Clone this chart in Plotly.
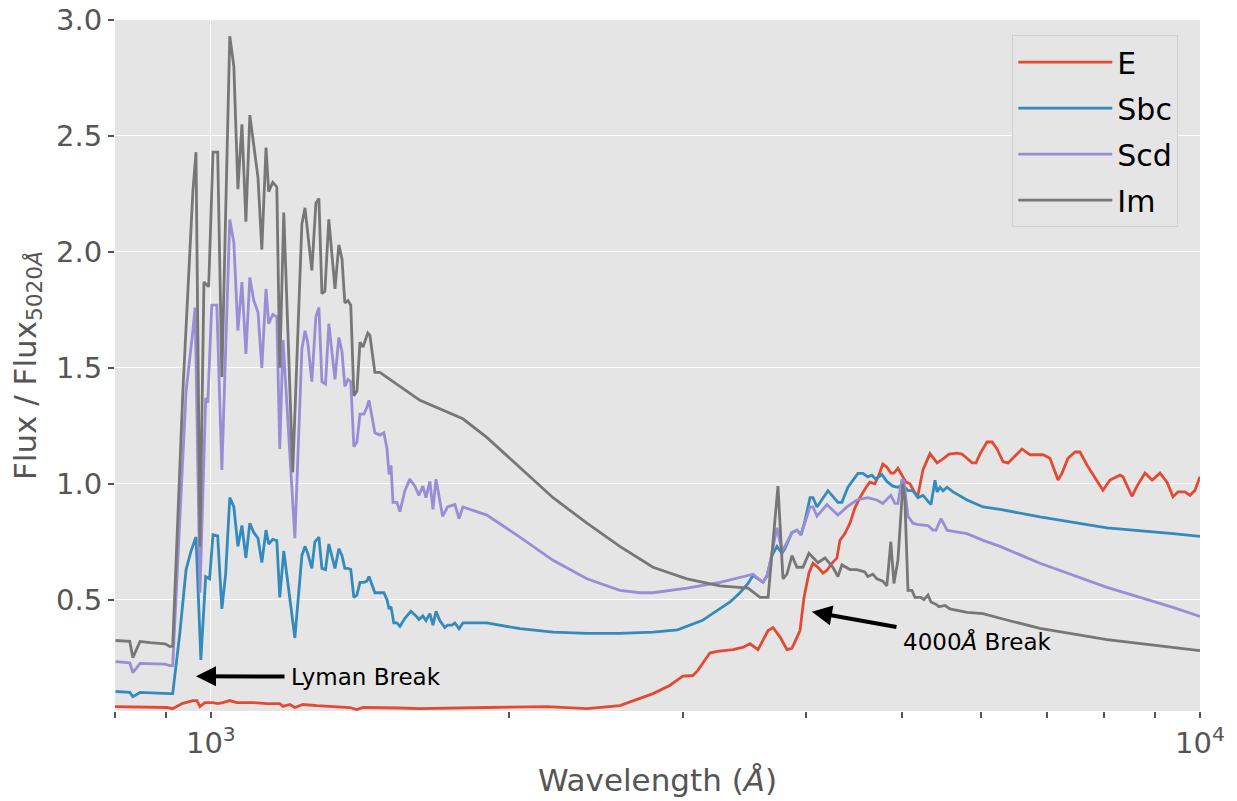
import math
import plotly.graph_objects as go

# Galaxy template spectra, normalised to the flux at 5020 Å
wl_e = [800, 903, 915, 935, 959, 968, 975, 986, 1005, 1016, 1028, 1045, 1062, 1082, 1103, 1139, 1174, 1183, 1202, 1216,
        1239, 1280, 1328, 1382, 1405, 1425, 1553, 1627, 1901, 2187, 2400, 2591, 2799, 2910, 3000, 3071, 3107, 3195, 3248, 3294,
        3373, 3453, 3508, 3574, 3659, 3701, 3761, 3823, 3868, 3941, 3978, 4024, 4062, 4109, 4158, 4196, 4245, 4295, 4325, 4375,
        4427, 4478, 4530, 4605, 4637, 4691, 4735, 4779, 4824, 4869, 4904, 4950, 5008, 5043, 5091, 5150, 5186, 5247, 5334, 5422,
        5498, 5576, 5681, 5746, 5814, 5883, 5937, 5994, 6091, 6163, 6234, 6323, 6397, 6607, 6732, 6939, 7052, 7136, 7186, 7253,
        7354, 7477, 7562, 7689, 7830, 7977, 8110, 8301, 8359, 8535, 8636, 8798, 8944, 9111, 9261, 9391, 9501, 9656, 9770, 9885,
        10000]
flux_e = [0.039, 0.035, 0.03, 0.052, 0.065, 0.065, 0.039, 0.056, 0.056, 0.052, 0.056, 0.065, 0.056, 0.056, 0.056, 0.052, 0.052, 0.04, 0.048, 0.035,
          0.048, 0.043, 0.04, 0.035, 0.026, 0.035, 0.033, 0.03, 0.035, 0.039, 0.03, 0.043, 0.095, 0.13, 0.17, 0.173, 0.195, 0.27, 0.277, 0.28,
          0.285, 0.295, 0.31, 0.285, 0.367, 0.38, 0.34, 0.285, 0.29, 0.367, 0.51, 0.615, 0.657, 0.64, 0.615, 0.627, 0.657, 0.68, 0.756, 0.785,
          0.83, 0.895, 0.94, 0.99, 1.007, 1.0, 1.037, 1.085, 1.072, 1.046, 1.046, 1.067, 1.03, 1.007, 1.0, 0.96, 0.95, 1.06, 1.13, 1.09,
          1.107, 1.128, 1.132, 1.128, 1.11, 1.09, 1.09, 1.13, 1.18, 1.18, 1.15, 1.095, 1.09, 1.15, 1.125, 1.125, 1.11, 1.05, 1.016, 1.046,
          1.11, 1.137, 1.137, 1.08, 1.024, 0.972, 1.016, 1.037, 1.03, 0.946, 0.99, 1.046, 1.016, 1.046, 1.007, 0.944, 0.965, 0.965, 0.95, 0.972,
          1.03]

wl_sbc = [801, 828, 834, 848, 909, 915, 930, 944, 955, 966, 977, 988, 997, 1005, 1016, 1026, 1035, 1045, 1055, 1065,
          1075, 1085, 1095, 1105, 1116, 1126, 1137, 1144, 1155, 1166, 1174, 1185, 1216, 1236, 1245, 1253, 1265, 1274, 1286, 1295,
          1306, 1316, 1335, 1347, 1357, 1366, 1376, 1385, 1395, 1405, 1415, 1428, 1438, 1445, 1465, 1482, 1496, 1507, 1514, 1521,
          1531, 1542, 1553, 1571, 1593, 1612, 1623, 1638, 1650, 1665, 1677, 1689, 1704, 1724, 1735, 1753, 1765, 1782, 1798, 1827,
          1901, 2053, 2218, 2400, 2591, 2799, 2963, 3138, 3271, 3349, 3427, 3492, 3533, 3616, 3650, 3692, 3735, 3779, 3805, 3868,
          3913, 3950, 3987, 4034, 4062, 4100, 4206, 4305, 4345, 4406, 4510, 4562, 4615, 4659, 4702, 4768, 4824, 4892, 4950, 5008,
          5067, 5126, 5186, 5247, 5346, 5396, 5422, 5460, 5498, 5550, 5628, 5814, 6035, 6279, 6890, 8054, 9391, 10000]
flux_sbc = [0.104, 0.10, 0.082, 0.10, 0.095, 0.095, 0.35, 0.63, 0.71, 0.77, 0.24, 0.60, 0.59, 0.78, 0.775, 0.46, 0.61, 0.94, 0.90, 0.73,
            0.82, 0.68, 0.83, 0.79, 0.765, 0.66, 0.80, 0.74, 0.76, 0.755, 0.51, 0.71, 0.335, 0.69, 0.73, 0.70, 0.635, 0.75, 0.77, 0.635,
            0.63, 0.74, 0.635, 0.72, 0.69, 0.635, 0.635, 0.63, 0.51, 0.52, 0.575, 0.575, 0.58, 0.60, 0.53, 0.53, 0.53, 0.50, 0.46, 0.47,
            0.40, 0.40, 0.385, 0.42, 0.45, 0.43, 0.415, 0.43, 0.41, 0.44, 0.39, 0.45, 0.41, 0.38, 0.39, 0.39, 0.40, 0.375, 0.40, 0.40,
            0.40, 0.375, 0.36, 0.355, 0.355, 0.36, 0.37, 0.41, 0.46, 0.49, 0.53, 0.57, 0.605, 0.575, 0.605, 0.69, 0.73, 0.70, 0.72, 0.79,
            0.80, 0.78, 0.84, 0.94, 0.94, 0.90, 0.97, 0.92, 0.92, 0.985, 1.045, 1.045, 1.03, 1.037, 1.02, 1.04, 1.01, 0.99, 0.985, 0.995,
            0.97, 0.97, 0.94, 0.95, 0.91, 1.015, 0.965, 0.985, 0.97, 0.985, 0.965, 0.93, 0.90, 0.89, 0.857, 0.81, 0.785, 0.773]

wl_scd = [801, 828, 834, 848, 899, 909, 915, 944, 959, 964, 975, 988, 993, 1002, 1014, 1026, 1045, 1055, 1065, 1075,
          1085, 1095, 1105, 1116, 1126, 1137, 1144, 1155, 1166, 1174, 1183, 1216, 1236, 1245, 1253, 1265, 1277, 1286, 1295, 1306,
          1316, 1335, 1347, 1357, 1366, 1376, 1385, 1395, 1405, 1415, 1428, 1438, 1445, 1465, 1482, 1496, 1507, 1514, 1521, 1528,
          1542, 1553, 1571, 1589, 1608, 1623, 1638, 1650, 1665, 1677, 1689, 1715, 1735, 1765, 1782, 1798, 1901, 2053, 2218, 2400,
          2591, 2715, 2799, 3029, 3271, 3349, 3450, 3533, 3616, 3650, 3692, 3735, 3779, 3805, 3868, 3913, 3950, 3987, 4034, 4062,
          4100, 4196, 4305, 4396, 4499, 4615, 4713, 4779, 4869, 4915, 4950, 4996, 5020, 5067, 5126, 5174, 5309, 5371, 5409, 5473,
          5550, 5628, 5814, 6035, 6279, 6890, 8054, 9391, 10000]
flux_scd = [0.233, 0.228, 0.186, 0.225, 0.222, 0.216, 0.216, 1.40, 1.66, 1.76, 0.53, 1.37, 1.35, 1.77, 1.77, 1.06, 2.14, 2.04, 1.66, 1.87,
            1.56, 1.89, 1.79, 1.74, 1.50, 1.84, 1.69, 1.73, 1.72, 1.15, 1.62, 0.765, 1.58, 1.66, 1.61, 1.44, 1.72, 1.76, 1.44, 1.43,
            1.69, 1.45, 1.63, 1.57, 1.42, 1.45, 1.44, 1.16, 1.18, 1.30, 1.30, 1.33, 1.36, 1.22, 1.21, 1.22, 1.15, 1.04, 1.08, 0.92,
            0.92, 0.88, 0.97, 1.02, 0.99, 0.95, 0.99, 0.94, 1.01, 0.89, 1.02, 0.86, 0.90, 0.91, 0.85, 0.90, 0.865, 0.77, 0.67, 0.59,
            0.54, 0.53, 0.53, 0.55, 0.575, 0.585, 0.60, 0.61, 0.575, 0.60, 0.70, 0.81, 0.71, 0.73, 0.79, 0.80, 0.78, 0.83, 0.90, 0.90,
            0.86, 0.91, 0.865, 0.90, 0.93, 0.94, 0.93, 0.915, 0.95, 0.915, 0.915, 1.02, 1.01, 0.86, 0.83, 0.825, 0.82, 0.80, 0.80, 0.85,
            0.80, 0.795, 0.785, 0.756, 0.73, 0.657, 0.553, 0.467, 0.428]

wl_im = [801, 828, 834, 848, 868, 899, 909, 915, 937, 959, 966, 975, 984, 995, 1005, 1016, 1026, 1045, 1055, 1065,
         1075, 1085, 1095, 1108, 1116, 1126, 1137, 1144, 1155, 1166, 1174, 1185, 1210, 1236, 1245, 1265, 1277, 1286, 1295, 1304,
         1316, 1335, 1347, 1357, 1366, 1376, 1385, 1395, 1405, 1415, 1425, 1441, 1448, 1465, 1482, 1627, 1798, 1901, 2053, 2218,
         2400, 2591, 2799, 3029, 3271, 3492, 3591, 3659, 3744, 3788, 3823, 3868, 3913, 3968, 4024, 4109, 4177, 4255, 4305, 4345,
         4427, 4499, 4583, 4615, 4669, 4713, 4779, 4824, 4869, 4904, 4950, 5008, 5031, 5067, 5114, 5150, 5223, 5259, 5309, 5346,
         5409, 5447, 5524, 5588, 5814, 6035, 6279, 6890, 8054, 9391, 10000]
flux_im = [0.324, 0.32, 0.25, 0.32, 0.315, 0.31, 0.298, 0.30, 1.40, 2.26, 2.43, 0.73, 1.87, 1.85, 2.43, 2.43, 1.46, 2.93, 2.80, 2.27,
           2.55, 2.13, 2.59, 2.43, 2.32, 2.01, 2.45, 2.26, 2.30, 2.28, 1.50, 2.17, 1.05, 2.12, 2.19, 1.92, 2.21, 2.23, 1.82, 1.83,
           2.14, 1.84, 2.03, 1.97, 1.78, 1.79, 1.77, 1.38, 1.40, 1.61, 1.59, 1.65, 1.64, 1.48, 1.48, 1.36, 1.28, 1.20, 1.07, 0.94,
           0.83, 0.73, 0.64, 0.59, 0.56, 0.55, 0.51, 0.51, 0.99, 0.59, 0.61, 0.69, 0.64, 0.64, 0.70, 0.66, 0.68, 0.64, 0.60, 0.65,
           0.63, 0.63, 0.62, 0.60, 0.61, 0.59, 0.58, 0.56, 0.75, 0.57, 0.67, 1.00, 0.93, 0.54, 0.54, 0.51, 0.51, 0.50, 0.52, 0.49,
           0.48, 0.47, 0.475, 0.46, 0.445, 0.44, 0.42, 0.376, 0.328, 0.294, 0.28]

series_names = ["E", "Sbc", "Scd", "Im"]
series_colors = ["#E24A33", "#348ABD", "#988ED5", "#777777"]
series_wl = [wl_e, wl_sbc, wl_scd, wl_im]
series_flux = [flux_e, flux_sbc, flux_scd, flux_im]

major_ticks = [1000, 10000]
major_labels = ["10<sup>3</sup>", "10<sup>4</sup>"]
minor_ticks = [800, 900, 2000, 3000, 4000, 5000, 6000, 7000, 8000, 9000]
y_ticks = [0.5, 1.0, 1.5, 2.0, 2.5, 3.0]
y_labels = ["0.5", "1.0", "1.5", "2.0", "2.5", "3.0"]

FONT = "DejaVu Sans"
AXIS_GREY = "#555555"

fig = go.Figure()
for name, wl, fl, col in zip(series_names, series_wl, series_flux, series_colors):
    fig.add_trace(go.Scatter(x=wl, y=fl, mode="lines", name=name, legendgroup=name,
                             line=dict(color=col, width=2.8)))

fig.update_layout(
    width=1237, height=801,
    margin=dict(l=115, r=37, t=20, b=90, autoexpand=False),
    paper_bgcolor="white",
    plot_bgcolor="#E5E5E5",
    font=dict(family=FONT, color=AXIS_GREY),
    showlegend=True,
    legend=dict(x=0.827, y=0.978, xanchor="left", yanchor="top",
                bgcolor="#E5E5E5", bordercolor="#D0D0D0", borderwidth=1,
                font=dict(family=FONT, size=30, color="black"),
                itemwidth=94, tracegroupgap=4),
)

fig.update_xaxes(
    type="log", range=[math.log10(800), 4], automargin=False,
    tickmode="array", tickvals=major_ticks, ticktext=major_labels,
    tickfont=dict(size=29, color=AXIS_GREY),
    ticks="outside", ticklen=6, tickwidth=1.5, tickcolor=AXIS_GREY,
    minor=dict(tickmode="array", tickvals=minor_ticks, ticks="outside",
               ticklen=6, tickwidth=1.5, tickcolor=AXIS_GREY, showgrid=False),
    showgrid=True, gridcolor="white", gridwidth=1.2,
    zeroline=False, showline=False,
    title=dict(text="Wavelength (<i>Å</i>)", font=dict(size=31, color=AXIS_GREY), standoff=10),
)

fig.update_yaxes(
    range=[0.02, 3.0], automargin=False,
    tickmode="array", tickvals=y_ticks, ticktext=y_labels,
    tickfont=dict(size=29, color=AXIS_GREY),
    ticks="outside", ticklen=6, tickwidth=1.5, tickcolor=AXIS_GREY,
    showgrid=True, gridcolor="white", gridwidth=1.2,
    zeroline=False, showline=False,
    title=dict(text="Flux / Flux<sub>5020<i>Å</i></sub>", font=dict(size=31, color=AXIS_GREY), standoff=10),
)

# Labelled arrows marking the two spectral breaks: text sits at (ax, ay),
# the arrow points at (x, y)
breaks = [
    dict(text="Lyman Break", tip=(966, 0.17), label=(1435, 0.168)),
    dict(text="4000<i>Å</i> Break", tip=(4052, 0.448), label=(5957, 0.319)),
]
for b in breaks:
    fig.add_annotation(
        x=math.log10(b["tip"][0]), y=b["tip"][1],
        ax=math.log10(b["label"][0]), ay=b["label"][1],
        xref="x", yref="y", axref="x", ayref="y",
        text=b["text"], showarrow=True, arrowhead=2, arrowsize=1.0,
        arrowwidth=4, arrowcolor="black", standoff=0, borderpad=6,
        font=dict(family=FONT, size=23, color="black"),
    )

fig.write_html("out.html")
